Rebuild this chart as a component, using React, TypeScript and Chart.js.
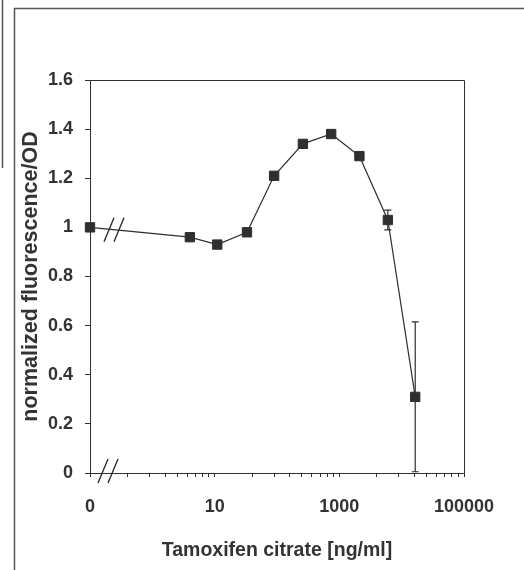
import { useEffect, useRef } from "react";
import { Chart, registerables } from "chart.js";

Chart.register(...registerables);

// Tamoxifen citrate concentration (ng/ml); 0 is the untreated control
const CONCENTRATIONS = [0, 4, 11, 33, 90, 260, 740, 2100, 6000, 16500];
// Mean normalized fluorescence / OD
const NORMALIZED = [1.0, 0.96, 0.93, 0.98, 1.21, 1.34, 1.38, 1.29, 1.03, 0.31];
// Error (± one SD) for each mean
const ERRORS = [0, 0, 0, 0, 0, 0, 0, 0, 0.04, 0.305];

// The control sits at the left end of the broken log axis
const CONTROL_POSITION = 0.1;

const X_MAJOR_VALUES = [0.1, 10, 1000, 100000];
const X_TICK_LABELS = ["0", "10", "1000", "100000"];
const Y_TICK_VALUES = [0, 0.2, 0.4, 0.6, 0.8, 1, 1.2, 1.4, 1.6];
const Y_TICK_LABELS = ["0", "0.2", "0.4", "0.6", "0.8", "1", "1.2", "1.4", "1.6"];

const INK = "#2f2f2f";
const FONT = "'Liberation Sans', Arial, Helvetica, sans-serif";

// Major ticks every two decades, minor ticks at major * k^2 (k = 2..9)
function xTickValues(): number[] {
  const out: number[] = [];
  X_MAJOR_VALUES.forEach((m, i) => {
    out.push(m);
    if (i < X_MAJOR_VALUES.length - 1) {
      for (let k = 2; k <= 9; k++) out.push(m * k * k);
    }
  });
  return out;
}

function xLabelFor(value: number): string {
  const idx = X_MAJOR_VALUES.findIndex(
    (m) => Math.abs(Math.log10(m) - Math.log10(value)) < 1e-6
  );
  return idx >= 0 ? X_TICK_LABELS[idx] : "";
}

const scanFrame = {
  id: "scanFrame",
  beforeDraw(chart: any) {
    const { ctx, width, height } = chart;
    ctx.save();
    ctx.fillStyle = "#ffffff";
    ctx.fillRect(0, 0, width, height);
    ctx.strokeStyle = "#555";
    ctx.lineWidth = 1.5;
    ctx.beginPath();
    ctx.moveTo(14.5, 8);
    ctx.lineTo(14.5, height);
    ctx.moveTo(14, 8.5);
    ctx.lineTo(width, 8.5);
    ctx.moveTo(2.5, 0);
    ctx.lineTo(2.5, 168);
    ctx.stroke();
    ctx.restore();
  },
};

const plotBox = {
  id: "plotBox",
  beforeDatasetsDraw(chart: any) {
    const { ctx, chartArea } = chart;
    ctx.save();
    ctx.strokeStyle = INK;
    ctx.lineWidth = 1;
    ctx.beginPath();
    ctx.moveTo(chartArea.left, chartArea.top + 0.5);
    ctx.lineTo(chartArea.right + 0.5, chartArea.top + 0.5);
    ctx.lineTo(chartArea.right + 0.5, chartArea.bottom);
    ctx.stroke();
    ctx.restore();
  },
};

const errorBars = {
  id: "errorBars",
  beforeDatasetsDraw(chart: any) {
    const { ctx } = chart;
    const xs = chart.scales.x;
    const ys = chart.scales.y;
    ctx.save();
    ctx.strokeStyle = INK;
    ctx.lineWidth = 1.2;
    CONCENTRATIONS.forEach((c, i) => {
      const e = ERRORS[i];
      if (!e) return;
      const x = xs.getPixelForValue(c === 0 ? CONTROL_POSITION : c);
      const yTop = ys.getPixelForValue(NORMALIZED[i] + e);
      const yBot = ys.getPixelForValue(Math.max(NORMALIZED[i] - e, 0));
      ctx.beginPath();
      ctx.moveTo(x, yTop);
      ctx.lineTo(x, yBot);
      ctx.moveTo(x - 3.5, yTop);
      ctx.lineTo(x + 3.5, yTop);
      ctx.moveTo(x - 3.5, yBot);
      ctx.lineTo(x + 3.5, yBot);
      ctx.stroke();
    });
    ctx.restore();
  },
};

// "//" marks where the concentration axis is broken between control and doses
const axisBreaks = {
  id: "axisBreaks",
  afterDatasetsDraw(chart: any) {
    const { ctx, chartArea } = chart;
    const meta = chart.getDatasetMeta(0);
    const p0 = meta.data[0];
    const p1 = meta.data[1];
    const drawBreak = (cx: number, cy: number) => {
      ctx.beginPath();
      [-5, 5].forEach((off) => {
        ctx.moveTo(cx + off - 5, cy + 12);
        ctx.lineTo(cx + off + 5, cy - 12);
      });
      ctx.stroke();
    };
    ctx.save();
    ctx.strokeStyle = INK;
    ctx.lineWidth = 1.4;
    const bx = chartArea.left + 24;
    const t = (bx - p0.x) / (p1.x - p0.x);
    drawBreak(bx, p0.y + (p1.y - p0.y) * t);
    drawBreak(chartArea.left + 18, chartArea.bottom - 2);
    ctx.restore();
  },
};

export default function App() {
  const canvasRef = useRef<HTMLCanvasElement | null>(null);

  useEffect(() => {
    document.body.style.margin = "0";
    const canvas = canvasRef.current;
    if (!canvas) return;

    const points = CONCENTRATIONS.map((c, i) => ({
      x: c === 0 ? CONTROL_POSITION : c,
      y: NORMALIZED[i],
    }));

    const chart = new Chart(canvas, {
      type: "scatter",
      data: {
        datasets: [
          {
            data: points,
            showLine: true,
            borderColor: INK,
            borderWidth: 1.2,
            backgroundColor: INK,
            pointStyle: "rect",
            pointRadius: 6.6,
            pointBorderWidth: 1,
            pointBorderColor: INK,
            pointBackgroundColor: INK,
            tension: 0,
            clip: false as any,
          },
        ],
      },
      options: {
        responsive: false,
        animation: false,
        events: [],
        layout: { padding: { left: 0, right: 60, top: 80, bottom: 0 } },
        plugins: {
          legend: { display: false },
          tooltip: { enabled: false },
        },
        scales: {
          x: {
            type: "logarithmic",
            min: 0.1,
            max: 100000,
            afterBuildTicks: (scale: any) => {
              scale.ticks = xTickValues().map((v) => ({ value: v }));
            },
            afterFit: (scale: any) => {
              scale.height = 97;
            },
            border: { display: true, color: INK, width: 1 },
            grid: {
              display: true,
              drawOnChartArea: false,
              drawTicks: true,
              tickLength: 4,
              color: INK,
            },
            ticks: {
              autoSkip: false,
              maxRotation: 0,
              padding: 19,
              color: "#333",
              font: { family: FONT, size: 18, weight: "bold" },
              callback: (value: any) => xLabelFor(Number(value)),
            },
            title: {
              display: true,
              text: "Tamoxifen citrate [ng/ml]",
              color: "#333",
              font: { family: FONT, size: 19.5, weight: "bold" },
              padding: { top: 0, bottom: 8 },
            },
          },
          y: {
            type: "linear",
            min: 0,
            max: 1.6,
            afterBuildTicks: (scale: any) => {
              scale.ticks = Y_TICK_VALUES.map((v) => ({ value: v }));
            },
            afterFit: (scale: any) => {
              scale.width = 90;
            },
            border: { display: true, color: INK, width: 1 },
            grid: {
              display: true,
              drawOnChartArea: false,
              drawTicks: true,
              tickLength: 5,
              color: INK,
            },
            ticks: {
              autoSkip: false,
              padding: 12,
              color: "#333",
              font: { family: FONT, size: 18, weight: "bold" },
              callback: (_v: any, index: number) => Y_TICK_LABELS[index],
            },
            title: {
              display: true,
              text: "normalized fluorescence/OD",
              color: "#333",
              font: { family: FONT, size: 21.5, weight: "bold" },
              padding: { top: 18, bottom: 0 },
            },
          },
        },
      },
      plugins: [scanFrame, plotBox, errorBars, axisBreaks],
    });

    return () => chart.destroy();
  }, []);

  return (
    <div style={{ width: 524, height: 570, position: "relative" }}>
      <canvas ref={canvasRef} width={524} height={570} style={{ display: "block" }} />
    </div>
  );
}
